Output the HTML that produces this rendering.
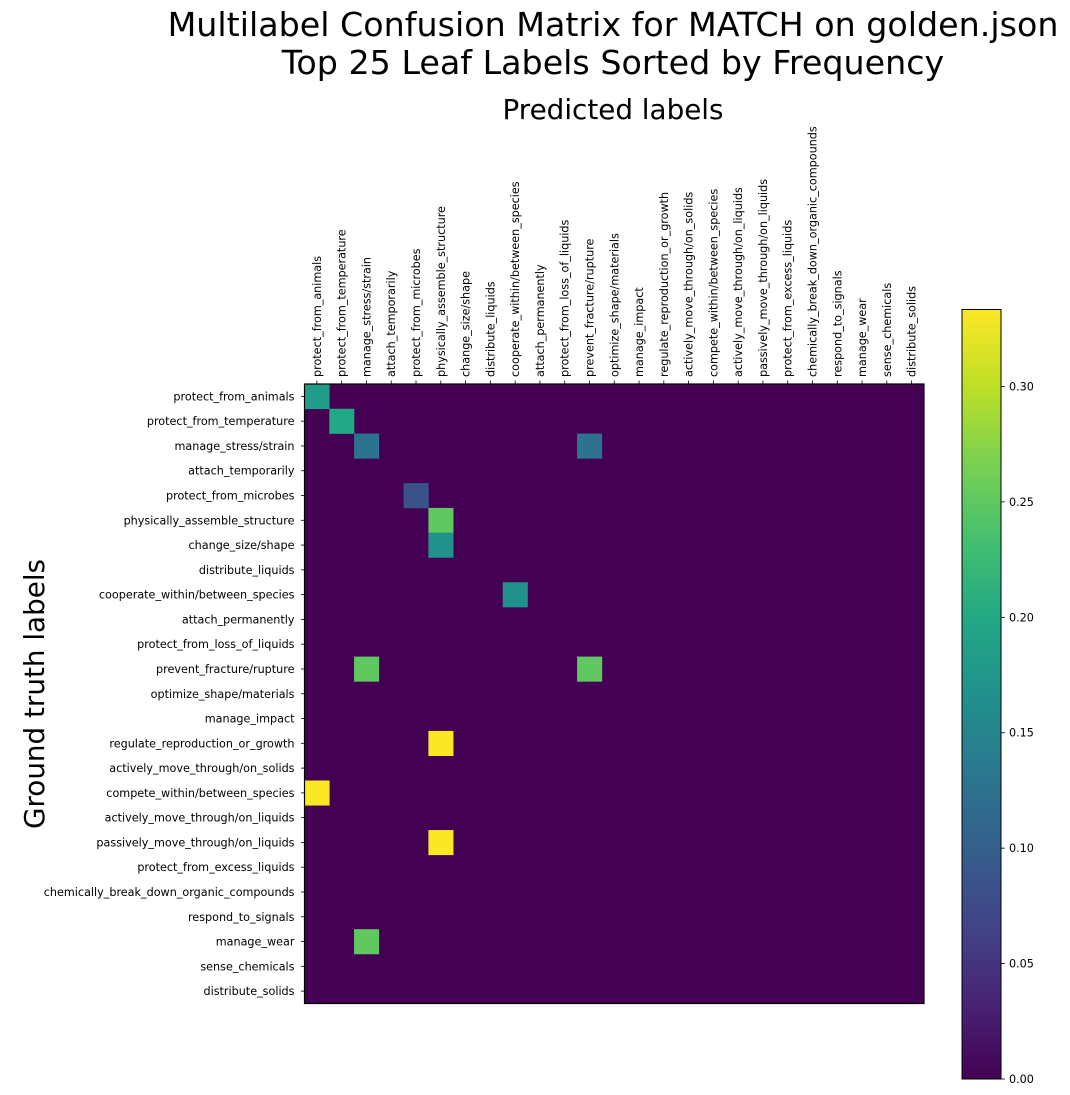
<!DOCTYPE html>
<html><head><meta charset="utf-8"><style>
html,body{margin:0;padding:0;background:#fff;}
svg{display:block;font-family:"DejaVu Sans","Liberation Sans",sans-serif;}
</style></head><body>
<svg id="chart" width="1070" height="1095" viewBox="0 0 1070 1095" xmlns="http://www.w3.org/2000/svg">
<text x="613" y="36" font-size="33.3" text-anchor="middle">Multilabel Confusion Matrix for MATCH on golden.json</text>
<text x="613" y="74" font-size="33.3" text-anchor="middle">Top 25 Leaf Labels Sorted by Frequency</text>
<text x="613" y="119" font-size="27.8" text-anchor="middle">Predicted labels</text>
<text transform="translate(44,694) rotate(-90)" font-size="27.8" text-anchor="middle">Ground truth labels</text>
<g id="cells"></g><g id="xt"></g><g id="yt"></g><g id="cb"></g>
</svg>
<script>
const labels=["protect_from_animals","protect_from_temperature","manage_stress/strain","attach_temporarily","protect_from_microbes","physically_assemble_structure","change_size/shape","distribute_liquids","cooperate_within/between_species","attach_permanently","protect_from_loss_of_liquids","prevent_fracture/rupture","optimize_shape/materials","manage_impact","regulate_reproduction_or_growth","actively_move_through/on_solids","compete_within/between_species","actively_move_through/on_liquids","passively_move_through/on_liquids","protect_from_excess_liquids","chemically_break_down_organic_compounds","respond_to_signals","manage_wear","sense_chemicals","distribute_solids"];
const cellRows=[0,1,2,2,4,5,6,8,11,11,14,16,18,22];
const cellCols=[0,1,2,11,4,5,5,8,2,11,5,0,5,2];
const cellVals=[0.183,0.2,0.125,0.125,0.083,0.25,0.167,0.167,0.25,0.25,0.333,0.333,0.333,0.25];
const cbTicks=[0,0.05,0.1,0.15,0.2,0.25,0.3];
const vmax=1/3;
const NS="http://www.w3.org/2000/svg";
const FS=11.2;
const stops=["#440154","#482475","#414487","#355f8d","#2a788e","#21918c","#22a884","#44bf70","#7ad151","#bddf26","#fde725"];
function hex(h){return [1,3,5].map(i=>parseInt(h.substr(i,2),16));}
function viridis(t){t=Math.max(0,Math.min(1,t));const f=t*10,i=Math.min(9,Math.floor(f)),r=f-i;const a=hex(stops[i]),b=hex(stops[i+1]);return "rgb("+a.map((v,k)=>Math.round(v+(b[k]-v)*r)).join(",")+")";}
const L=304.5,T=384,S=619.5/25;
const xs=i=>L+i*S, ys=i=>T+i*S;
function mk(tag,attrs,parent){const e=document.createElementNS(NS,tag);for(const k in attrs)e.setAttribute(k,attrs[k]);parent.appendChild(e);return e;}
const cells=document.getElementById("cells");
const bg=mk("rect",{x:L,y:T,width:S*25,height:S*25,fill:viridis(0)},cells);


cellVals.forEach((v,k)=>{
 const r=mk("rect",{x:xs(cellCols[k]),y:ys(cellRows[k]),width:S+0.3,height:S+0.3,fill:viridis(v/vmax)},cells);
 
 
});
const fr=mk("rect",{x:L,y:T,width:S*25,height:S*25,fill:"none",stroke:"#000","stroke-width":1.2},cells);


const xt=document.getElementById("xt"),yt=document.getElementById("yt");
labels.forEach((lab,i)=>{
 const cx=xs(i)+S/2, cy=ys(i)+S/2;
 mk("line",{x1:cx,y1:T,x2:cx,y2:T-3.5,stroke:"#000","stroke-width":0.8},xt);
 const t=mk("text",{transform:"translate("+(cx+4)+","+(T-7)+") rotate(-90)","font-size":FS},xt);
 t.textContent=lab;
 
 
 mk("line",{x1:L,y1:cy,x2:L-3.5,y2:cy,stroke:"#000","stroke-width":0.8},yt);
 const u=mk("text",{x:L-10,y:cy+4,"font-size":FS,"text-anchor":"end"},yt);
 u.textContent=lab;
 
 
});
const cb=document.getElementById("cb");
const CX=962,CT=309.5,CB=1079,CW=39;
const defs=mk("defs",{},cb);
const g=mk("linearGradient",{id:"vg",x1:0,y1:1,x2:0,y2:0},defs);
stops.forEach((c,i)=>mk("stop",{offset:i/10,"stop-color":c},g));
const bar=mk("rect",{x:CX,y:CT,width:CW,height:CB-CT,fill:"url(#vg)",stroke:"#000","stroke-width":1},cb);


const cy=v=>CB-(v/vmax)*(CB-CT);
cbTicks.forEach(v=>{
 const y=cy(v);
 mk("line",{x1:CX+CW,y1:y,x2:CX+CW+4,y2:y,stroke:"#000","stroke-width":0.8},cb);
 const t=mk("text",{x:CX+CW+8,y:y+4,"font-size":FS},cb);
 t.textContent=v.toFixed(2);
 
 
});
</script>
</body></html>
